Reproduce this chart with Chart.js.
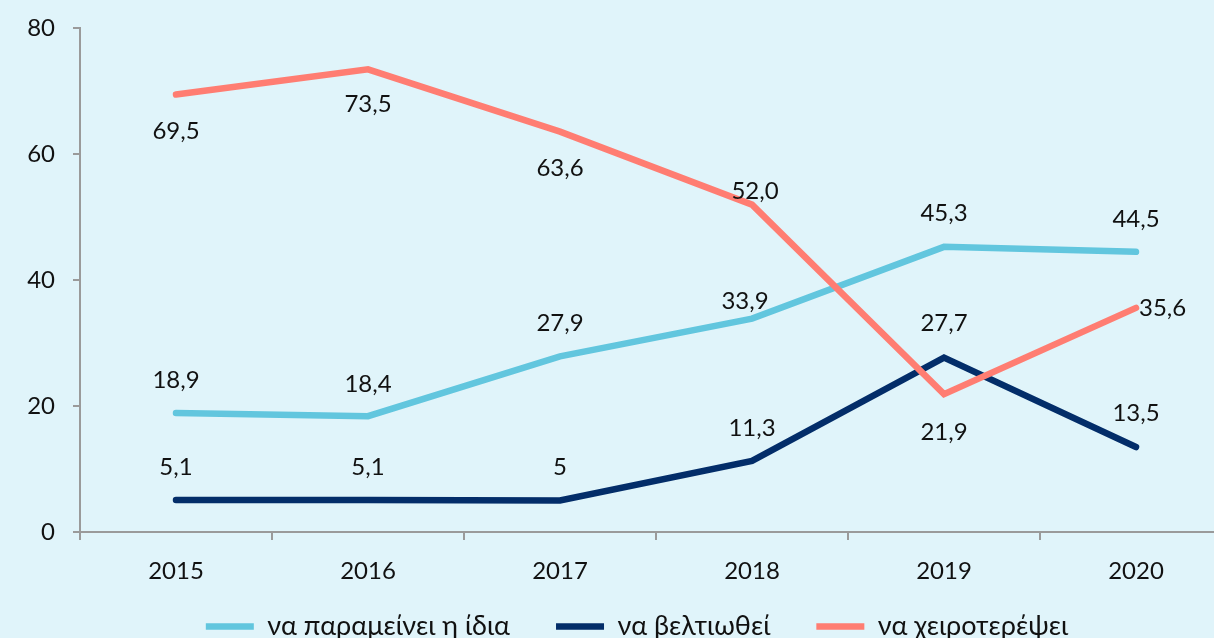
<!DOCTYPE html>
<html>
<head>
<meta charset="utf-8">
<script src="https://cdn.jsdelivr.net/npm/chart.js@4/dist/chart.umd.min.js"></script>
<style>
  html, body { margin: 0; padding: 0; overflow: hidden; background: #e0f4fa; }
  #wrap { position: absolute; left: 0; top: -4px; width: 1276px; height: 673px; }
</style>
</head>
<body>
<div id="wrap"><canvas id="chart" width="1276" height="673"></canvas></div>
<script>
const years = ["2015", "2016", "2017", "2018", "2019", "2020"];
const stay = [18.9, 18.4, 27.9, 33.9, 45.3, 44.5];      // να παραμείνει η ίδια
const improve = [5.1, 5.1, 5, 11.3, 27.7, 13.5];       // να βελτιωθεί
const worsen = [69.5, 73.5, 63.6, 52.0, 21.9, 35.6];   // να χειροτερέψει
const worsenText = ["69,5", "73,5", "63,6", "52,0", "21,9", "35,6"];
const yTicks = [0, 20, 40, 60, 80];

// label offset from the point: [dx, dy, align]
const stayPos = [[0, -33], [0, -32], [0, -33], [-7, -17], [0, -34], [0, -33]];
const improvePos = [[0, -33], [0, -33], [0, -33], [0, -33], [0, -34], [0, -34]];
const worsenPos = [[0, 37], [0, 35], [0, 37], [3, -13], [0, 38], [3, 0, "left"]];

const fmt = v => String(v).replace(".", ",");
const family = "Lato, 'Noto Sans', sans-serif";

const valueLabels = {
  id: "valueLabels",
  afterDatasetsDraw(chart) {
    const ctx = chart.ctx;
    ctx.save();
    ctx.font = "24px " + family;
    ctx.fillStyle = "#111";
    ctx.textBaseline = "middle";
    chart.data.datasets.forEach((ds, i) => {
      const meta = chart.getDatasetMeta(i);
      meta.data.forEach((pt, j) => {
        const p = ds.labelPos[j];
        ctx.textAlign = p[2] || "center";
        const txt = ds.labelText ? ds.labelText[j] : fmt(ds.data[j]);
        ctx.fillText(txt, pt.x + p[0], pt.y + p[1]);
      });
    });
    ctx.restore();
  }
};

// legend sits closer to the axis labels and a bit further right than chart.js puts it
const nudgeLegend = {
  id: "nudgeLegend",
  afterLayout(chart) {
    const lg = chart.legend;
    lg.top -= 19; lg.bottom -= 19;
    lg.left += 21; lg.right += 21;
  }
};

const axisColor = "#9a9a9a";
const font = { family: family, size: 24 };

new Chart(document.getElementById("chart"), {
  type: "line",
  data: {
    labels: years,
    datasets: [
      { label: "να παραμείνει η ίδια", data: stay, borderColor: "#62c6de", backgroundColor: "#62c6de", order: 2, labelPos: stayPos },
      { label: "να βελτιωθεί", data: improve, borderColor: "#032d69", backgroundColor: "#032d69", order: 1, labelPos: improvePos },
      { label: "να χειροτερέψει", data: worsen, borderColor: "#ff7d72", backgroundColor: "#ff7d72", order: 0, labelPos: worsenPos, labelText: worsenText }
    ].map(d => Object.assign(d, { borderWidth: 6.5, pointRadius: 0, borderCapStyle: "round", tension: 0 }))
  },
  options: {
    responsive: false,
    animation: false,
    layout: { padding: { top: 22, right: 44, left: 0, bottom: 0 } },
    plugins: {
      tooltip: { enabled: false },
      legend: {
        position: "bottom",
        labels: {
          usePointStyle: true,
          pointStyle: "line",
          pointStyleWidth: 48,
          padding: 46,
          color: "#111",
          font: { family: family, size: 27 },
          sort: (a, b) => a.datasetIndex - b.datasetIndex
        }
      }
    },
    scales: {
      x: {
        offset: true,
        afterFit: s => { s.height = 54; },
        grid: { offset: true, drawOnChartArea: false, drawTicks: true, tickLength: 8, color: axisColor, lineWidth: 2 },
        border: { display: true, color: axisColor, width: 2 },
        ticks: { padding: 17, color: "#111", font: font }
      },
      y: {
        min: 0,
        max: 80,
        afterBuildTicks: s => { s.ticks = yTicks.map(v => ({ value: v })); },
        afterFit: s => { s.width = 80; },
        grid: { drawOnChartArea: false, drawTicks: true, tickLength: 7, color: axisColor, lineWidth: 2 },
        border: { display: true, color: axisColor, width: 2 },
        ticks: { padding: 18, color: "#111", font: font }
      }
    }
  },
  plugins: [valueLabels, nudgeLegend]
});
</script>
</body>
</html>
